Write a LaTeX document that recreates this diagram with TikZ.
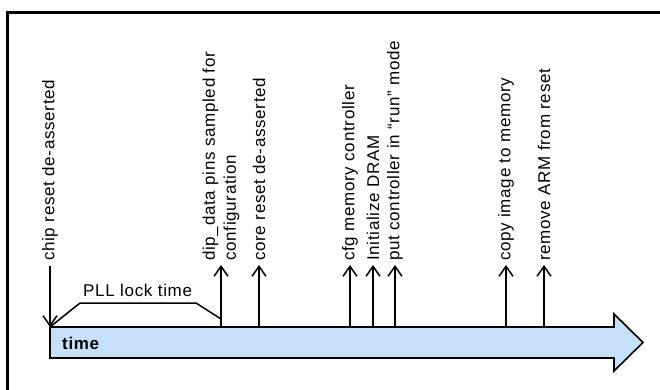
\documentclass[tikz,border=0pt]{standalone}
\usepackage{fontspec}
\setmainfont{Liberation Sans}[LetterSpace=4]
\usetikzlibrary{arrows.meta,positioning}
\definecolor{timeblue}{RGB}{198,224,250}

\begin{document}
\begin{tikzpicture}[x=1pt, y=-1pt,
  lbl/.style={rotate=90, anchor=west, inner sep=0pt, align=left,
              font=\fontsize{17}{21}\selectfont},
  evt/.style={-{Straight Barb[length=10pt, width=14pt]}, line width=1.5pt},
  brk/.style={line width=1.5pt},
  txt/.style={inner sep=0pt, font=\fontsize{17}{21}\selectfont}
]
  \useasboundingbox (0,0) rectangle (660,390);

  % Frame
  \draw[line width=2.7pt] (7.3,390) -- (7.3,12.7) -- (660,12.7);

  % Time arrow
  \draw[fill=timeblue, line width=1.6pt]
    (50,327) -- (614,327) -- (614,314) -- (643,342.5) -- (614,371)
    -- (614,358) -- (50,358) -- cycle;
  \node[txt, font=\fontsize{17}{21}\selectfont\bfseries, anchor=base west]
    (time) at (62,349) {time};

  % Chip reset (downward arrow)
  \coordinate (b0) at (50,327);
  \node[lbl] (l0) at (50,261) {chip reset de-asserted};
  \draw[evt, shorten <=5pt] (l0.west) -- (b0);

  % Events
  \foreach \n/\x/\t in {1/221/{dip\_data pins sampled for\\configuration},
                        2/259/{core reset de-asserted},
                        3/350/{cfg memory controller},
                        4/373/{Initialize DRAM},
                        5/395/{put controller in “run” mode},
                        6/506/{copy image to memory},
                        7/544/{remove ARM from reset}} {
    \coordinate (b\n) at (\x,327);
    \node[lbl] (l\n) at (\x,261) {\t};
    \draw[evt, shorten >=4pt] (b\n) -- (l\n.west);
  }

  % PLL lock time
  \coordinate (pll1) at (80,303);
  \coordinate (pll2) at (196,303);
  \coordinate (pll3) at (221,319);
  \draw[brk] (b0) -- (pll1) -- (pll2) -- (pll3);
  \node[txt, anchor=base west] (pll) at (83,296) {PLL lock time};
\end{tikzpicture}
\end{document}
